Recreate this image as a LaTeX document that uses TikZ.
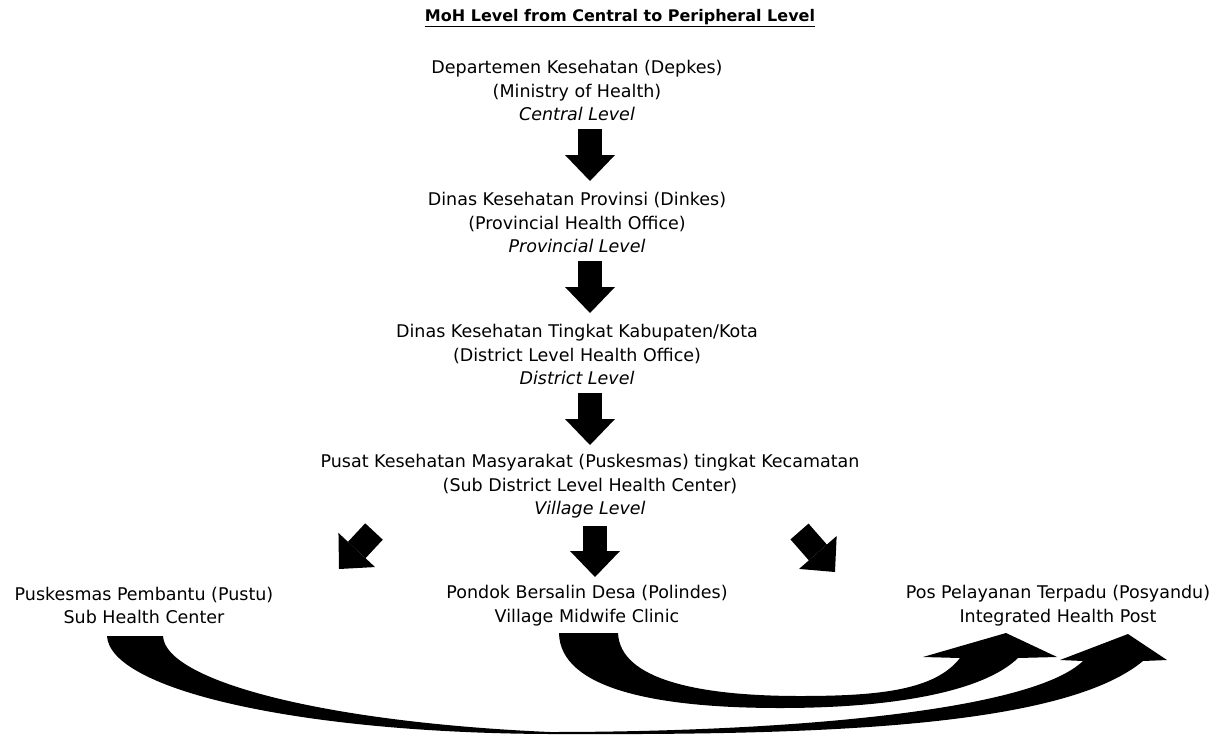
\documentclass[tikz,border=0pt]{standalone}
\usepackage{fontspec}
\setmainfont{DejaVu Sans}
\usetikzlibrary{arrows.meta}
\begin{document}
\begin{tikzpicture}[x=1pt,y=-1pt,
  txt/.style={align=center, inner sep=0pt, font=\fontsize{17.5}{23.5}\selectfont},
  ttl/.style={inner sep=0pt, font=\fontsize{16}{19}\selectfont\bfseries},
  blk/.style={line width=24pt, -{Triangle[width=50pt,length=26pt,line width=0pt]}},
  curved/.style={fill=black}]
\useasboundingbox (0,0) rectangle (1218,734);
\node[ttl] (title) at (620,18) {\underline{MoH Level from Central to Peripheral Level}};
\node[txt] (central) at (577,90.5) {Departemen Kesehatan (Depkes)\\(Ministry of Health)\\\textit{Central Level}};
\node[txt] (prov) at (577,222.5) {Dinas Kesehatan Provinsi (Dinkes)\\(Provincial Health Office)\\\textit{Provincial Level}};
\node[txt] (dist) at (577,354.5) {Dinas Kesehatan Tingkat Kabupaten/Kota\\(District Level Health Office)\\\textit{District Level}};
\node[txt] (pusk) at (590,486.5) {Pusat Kesehatan Masyarakat (Puskesmas) tingkat Kecamatan\\(Sub District Level Health Center)\\\textit{Village Level}};
\node[txt] (pustu) at (144,605.5) {Puskesmas Pembantu (Pustu)\\Sub Health Center};
\node[txt] (polindes) at (587,605.5) {Pondok Bersalin Desa (Polindes)\\Village Midwife Clinic};
\node[txt] (posyandu) at (1058,605.5) {Pos Pelayanan Terpadu (Posyandu)\\Integrated Health Post};
% straight block arrows
\coordinate (a1s) at (590,129); \coordinate (a1e) at (590,181);
\coordinate (a2s) at (590,261); \coordinate (a2e) at (590,313);
\coordinate (a3s) at (590,393); \coordinate (a3e) at (590,445);
\coordinate (a4s) at (595,526); \coordinate (a4e) at (595,577);
\coordinate (sws) at (374,531.5); \coordinate (swe) at (339,569);
\coordinate (ses) at (799.5,531.5); \coordinate (see) at (835,572);
\draw[blk] (a1s) -- (a1e);
\draw[blk] (a2s) -- (a2e);
\draw[blk] (a3s) -- (a3e);
\draw[blk] (a4s) -- (a4e);
\draw[blk] (sws) -- (swe);
\draw[blk] (ses) -- (see);
% curved arrow Pustu -> Posyandu
\fill[curved] (107,636) .. controls (110,690) and (300,733) .. (550,734)
  .. controls (800,735) and (1060,730) .. (1143,661) -- (1167,660) -- (1128,634)
  -- (1060,660) -- (1083,661) .. controls (1030,712) and (780,732) .. (550,732)
  .. controls (320,722) and (165,680) .. (163,636) -- cycle;
% curved arrow Polindes -> Posyandu
\fill[curved] (559,633) .. controls (560,690) and (660,708) .. (780,708)
  .. controls (900,708) and (985,690) .. (1018,658) -- (1057,657) -- (1006,633)
  -- (923,657) -- (960,658) .. controls (935,690) and (880,696) .. (800,696)
  .. controls (700,696) and (620,680) .. (618,633) -- cycle;
\end{tikzpicture}
\end{document}
